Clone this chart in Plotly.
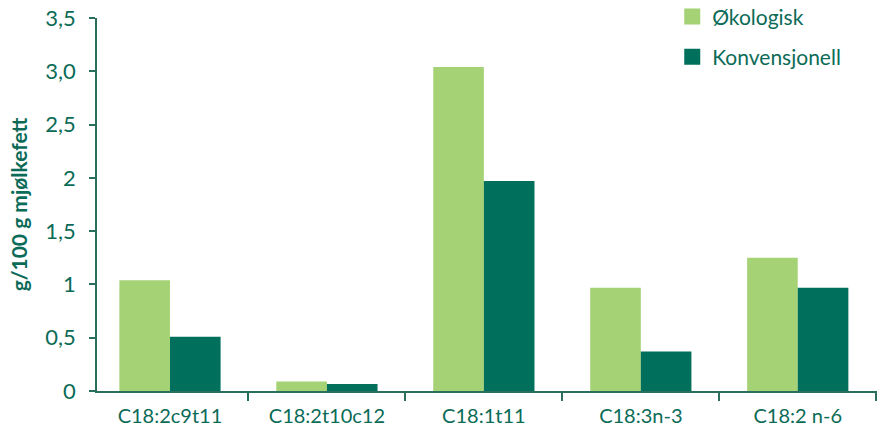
import plotly.graph_objects as go

categories = ["C18:2c9t11", "C18:2t10c12", "C18:1t11", "C18:3n-3", "C18:2 n-6"]
okologisk = [1.04, 0.09, 3.04, 0.97, 1.25]
konvensjonell = [0.51, 0.065, 1.97, 0.37, 0.97]
ytick_vals = [0, 0.5, 1, 1.5, 2, 2.5, 3, 3.5]
ytick_text = ["0", "0,5", "1", "1,5", "2", "2,5", "3,0", "3,5"]

TXT = "#0B6B57"
AX = "#2A6E5E"
FONT = "Lato"
C_OKO = "#A4D274"
C_KONV = "#006F5B"

fig = go.Figure()
fig.add_trace(go.Bar(x=categories, y=okologisk, name="Økologisk", showlegend=False,
                     marker=dict(color=C_OKO, line=dict(width=0))))
fig.add_trace(go.Bar(x=categories, y=konvensjonell, name="Konvensjonell", showlegend=False,
                     marker=dict(color=C_KONV, line=dict(width=0))))
# legend entries with larger square swatches
fig.add_trace(go.Scatter(x=[None], y=[None], mode="markers", name="Økologisk",
                         legendgroup="a",
                         marker=dict(symbol="square", size=20, color=C_OKO)))
fig.add_trace(go.Scatter(x=[None], y=[None], mode="markers", name="Konvensjonell",
                         legendgroup="b",
                         marker=dict(symbol="square", size=20, color=C_KONV)))

fig.update_layout(
    width=880, height=428,
    margin=dict(l=97, r=3, t=18, b=37, autoexpand=False),
    plot_bgcolor="white", paper_bgcolor="white",
    barmode="group", bargap=0.355, bargroupgap=0,
    font=dict(family=FONT, size=20, color=TXT),
    showlegend=True,
    legend=dict(x=0.7375, y=1.058, xanchor="left", yanchor="top",
                font=dict(size=21, color=TXT), tracegroupgap=10,
                traceorder="grouped", itemsizing="trace",
                bgcolor="rgba(0,0,0,0)"),
    xaxis=dict(range=[-0.465, 4.505], automargin=False,
               showline=True, linecolor=AX, linewidth=1.5,
               ticks="outside", tickson="boundaries", ticklen=8,
               tickcolor=AX, tickwidth=1.5, showgrid=False,
               ticklabelstandoff=6,
               tickfont=dict(size=20, color=TXT)),
    yaxis=dict(range=[0, 3.5], tickvals=ytick_vals, ticktext=ytick_text,
               automargin=False,
               showline=True, linecolor=AX, linewidth=1.5,
               ticks="outside", ticklen=6, tickcolor=AX, tickwidth=1.5,
               showgrid=False, zeroline=False, ticklabelstandoff=9,
               tickfont=dict(size=22, color=TXT),
               title=dict(text="<b>g/100 g mjølkefett</b>", standoff=12,
                          font=dict(size=21, color=TXT))),
)

fig.write_html("out.html")
